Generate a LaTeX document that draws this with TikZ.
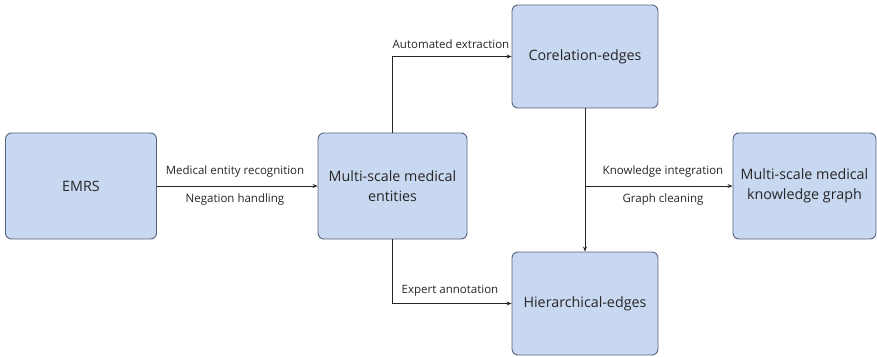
\documentclass[tikz,border=0pt]{standalone}
\usepackage{fontspec}
\setmainfont{Open Sans}
\usetikzlibrary{arrows.meta,calc}
\definecolor{boxfill}{HTML}{C9D8F1}
\definecolor{boxdraw}{HTML}{55627E}
\definecolor{txt}{HTML}{262626}
\begin{document}
\begin{tikzpicture}[x=1pt,y=-1pt,
  box/.style={draw=boxdraw,fill=boxfill,rounded corners=6pt,line width=0.9pt,
    align=center,text=txt,font=\fontsize{14.3}{19.5}\selectfont,inner sep=0pt},
  arr/.style={draw=black!85,line width=0.7pt,-{Stealth[length=5pt,width=4pt]}},
  lab/.style={text=txt,font=\fontsize{11.5}{13}\selectfont,inner sep=0pt}]
\useasboundingbox (0,0) rectangle (877,356);
\node[box,minimum width=151pt,minimum height=106pt] (emrs) at (81,186) {EMRS};
\node[box,minimum width=149pt,minimum height=106pt] (ent) at (392.5,186) {Multi-scale medical\\entities};
\node[box,minimum width=146pt,minimum height=103pt] (cor) at (585,56.5) {Corelation-edges};
\node[box,minimum width=146pt,minimum height=103pt] (hier) at (585,303.5) {Hierarchical-edges};
\node[box,minimum width=143pt,minimum height=106pt] (kg) at (804.5,186) {Multi-scale medical\\knowledge graph};
\draw[arr] (emrs) -- (ent);
\node[lab] (l1) at (235,172) {Medical entity recognition};
\node[lab] (l2) at (235,200) {Negation handling};
\draw[arr] (ent.north) |- (cor.west);
\node[lab] (l3) at (451,44) {Automated extraction};
\draw[arr] (ent.south) |- (hier.west);
\node[lab] (l4) at (450,291) {Expert annotation};
\draw[arr] (cor) -- (hier);
\coordinate (j) at (cor.south |- kg.west);
\draw[arr] (j) -- (kg);
\node[lab] (l5) at (663,172) {Knowledge integration};
\node[lab] (l6) at (663,200) {Graph cleaning};
\end{tikzpicture}
\end{document}
